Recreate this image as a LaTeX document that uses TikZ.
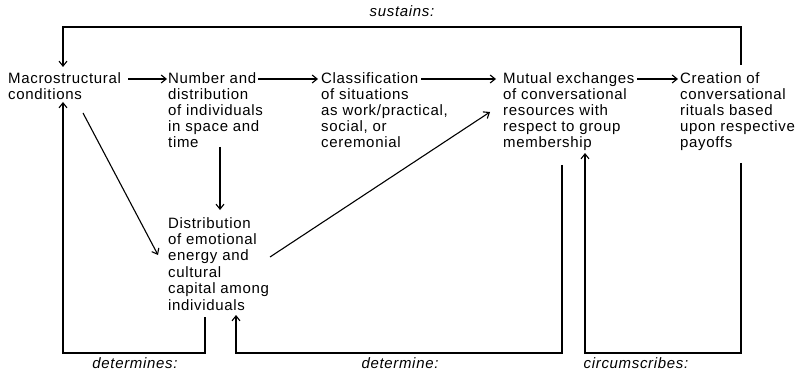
\documentclass[tikz,border=0pt]{standalone}
\usepackage{fontspec}
\setmainfont{Liberation Sans}[LetterSpace=4.5]
\usetikzlibrary{arrows.meta}
\begin{document}
\begin{tikzpicture}[x=1pt,y=-1pt,
  concept/.style={anchor=north west, align=left, inner sep=0pt,
    font=\fontsize{15}{16}\selectfont},
  relation/.style={anchor=base, inner sep=0pt,
    font=\fontsize{15}{16}\selectfont\itshape},
  link/.style={line width=1.1pt, -{Straight Barb[length=5pt,width=8pt]}}]
\useasboundingbox (0,0) rectangle (797,374);

% concepts (top edge of the first line of each text)
\node[concept] (macro)    at (8,72)   {Macrostructural\\conditions};
\node[concept] (number)   at (168,72) {Number and\\distribution\\of individuals\\in space and\\time};
\node[concept] (class)    at (321,72) {Classification\\of situations\\as work/practical,\\social, or\\ceremonial};
\node[concept] (mutual)   at (503,72) {Mutual exchanges\\of conversational\\resources with\\respect to group\\membership};
\node[concept] (creation) at (680,72) {Creation of\\conversational\\rituals based\\upon respective\\payoffs};
\node[concept, font=\fontsize{15}{16.4}\selectfont] (distrib) at (168,217)
  {Distribution\\of emotional\\energy and\\cultural\\capital among\\individuals};

% relation labels
\node[relation] (sustains)   at (402,17)  {sustains:};
\node[relation] (determines) at (135,368) {determines:};
\node[relation] (determine)  at (400,368) {determine:};
\node[relation] (circum)     at (636,368) {circumscribes:};

% main chain
\draw[link] ([shift={(120,7)}]macro.north west) -- ([shift={(-1,7)}]number.north west);
\draw[link] ([shift={(90,7)}]number.north west) -- ([shift={(-3,7)}]class.north west);
\draw[link] ([shift={(100,7)}]class.north west) -- ([shift={(-7,7)}]mutual.north west);
\draw[link] ([shift={(134,7)}]mutual.north west) -- ([shift={(-2,7)}]creation.north west);

% paths through the distribution of emotional energy
\draw[link] ([shift={(75,41)}]macro.north west) -- ([shift={(-10,38)}]distrib.north west);
\draw[link] ([shift={(52,75)}]number.north west) -- ([shift={(52,-7)}]distrib.north west);
\draw[link] ([shift={(102,40)}]distrib.north west) -- ([shift={(-13,40)}]mutual.north west);

% feedback loops
\draw[link] ([shift={(61,-7)}]creation.north west) |- ([shift={(55,-45)}]macro.north west)
  -- ([shift={(55,-5)}]macro.north west);
\draw[link] ([shift={(37,100)}]distrib.north west) |- ([shift={(55,281)}]macro.north west)
  -- ([shift={(55,30)}]macro.north west);
\draw[link] ([shift={(59,93)}]mutual.north west) |- ([shift={(68,136)}]distrib.north west)
  -- ([shift={(68,98)}]distrib.north west);
\draw[link] ([shift={(61,91)}]creation.north west) |- ([shift={(82,281)}]mutual.north west)
  -- ([shift={(82,81)}]mutual.north west);
\end{tikzpicture}
\end{document}
